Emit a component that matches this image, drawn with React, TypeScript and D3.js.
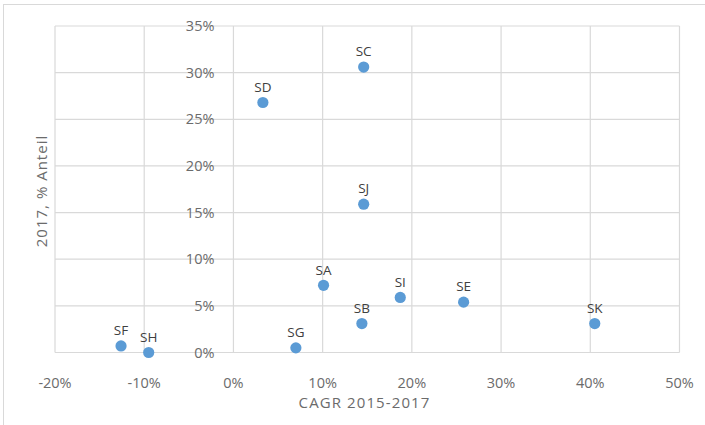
import React from "react";
import * as d3 from "d3";

const labels = ["SC", "SD", "SJ", "SA", "SI", "SE", "SB", "SK", "SG", "SF", "SH"];
const cagr = [14.6, 3.3, 14.6, 10.1, 18.7, 25.8, 14.4, 40.5, 7.0, -12.6, -9.5];
const share = [30.6, 26.8, 15.9, 7.2, 5.9, 5.4, 3.1, 3.1, 0.5, 0.7, 0.0];
const xTicks = [-20, -10, 0, 10, 20, 30, 40, 50];
const yTicks = [0, 5, 10, 15, 20, 25, 30, 35];
const xTitle = "CAGR 2015-2017";
const yTitle = "2017, % Anteil";

const W = 705;
const H = 425;
const FONT = "'Open Sans', 'Noto Sans', sans-serif";

export default function App() {
  const x = d3.scaleLinear().domain([-20, 50]).range([55, 679.5]);
  const y = d3.scaleLinear().domain([0, 35]).range([352.5, 26]);
  const pts = labels.map((l, i) => ({ l, cx: x(cagr[i]), cy: y(share[i]) }));
  return (
    <svg
      width={W}
      height={H}
      style={{ position: "fixed", left: 0, top: 0, background: "#fff" }}
      fontFamily={FONT}
    >
      <rect x={0} y={0} width={W} height={H} fill="#fff" />
      <rect x={3.5} y={4.5} width={W + 10} height={H + 10} fill="none" stroke="#d9d9d9" strokeWidth={1} />
      {xTicks.map((t) => (
        <line key={"gx" + t} x1={x(t)} x2={x(t)} y1={y(35)} y2={y(0)} stroke="#d9d9d9" strokeWidth={1.2} />
      ))}
      {yTicks.map((t) => (
        <line key={"gy" + t} x1={x(-20)} x2={x(50)} y1={y(t)} y2={y(t)} stroke="#d9d9d9" strokeWidth={1.2} />
      ))}
      {yTicks.map((t) => (
        <text
          key={"ty" + t}
          x={x(0) - 19}
          y={y(t)}
          dy="0.35em"
          textAnchor="end"
          fontSize={14.5}
          fill="#6b6b6b"
        >
          {t + "%"}
        </text>
      ))}
      {xTicks.map((t) => (
        <text
          key={"tx" + t}
          x={x(t)}
          y={383}
          dy="0.35em"
          textAnchor="middle"
          fontSize={14.5}
          fill="#6b6b6b"
        >
          {t + "%"}
        </text>
      ))}
      <text x={364.5} y={403} dy="0.35em" textAnchor="middle" fontSize={15} letterSpacing={1.1} fill="#6b6b6b">
        {xTitle}
      </text>
      <text
        transform={`translate(42,191) rotate(-90)`}
        dy="0.35em"
        textAnchor="middle"
        fontSize={15}
        letterSpacing={1}
        fill="#6b6b6b"
      >
        {yTitle}
      </text>
      {pts.map((p) => (
        <g key={p.l}>
          <circle cx={p.cx} cy={p.cy} r={5.6} fill="#5b9bd5" />
          <text x={p.cx} y={p.cy - 15.5} dy="0.35em" textAnchor="middle" fontSize={13.5} fill="#404040">
            {p.l}
          </text>
        </g>
      ))}
    </svg>
  );
}
